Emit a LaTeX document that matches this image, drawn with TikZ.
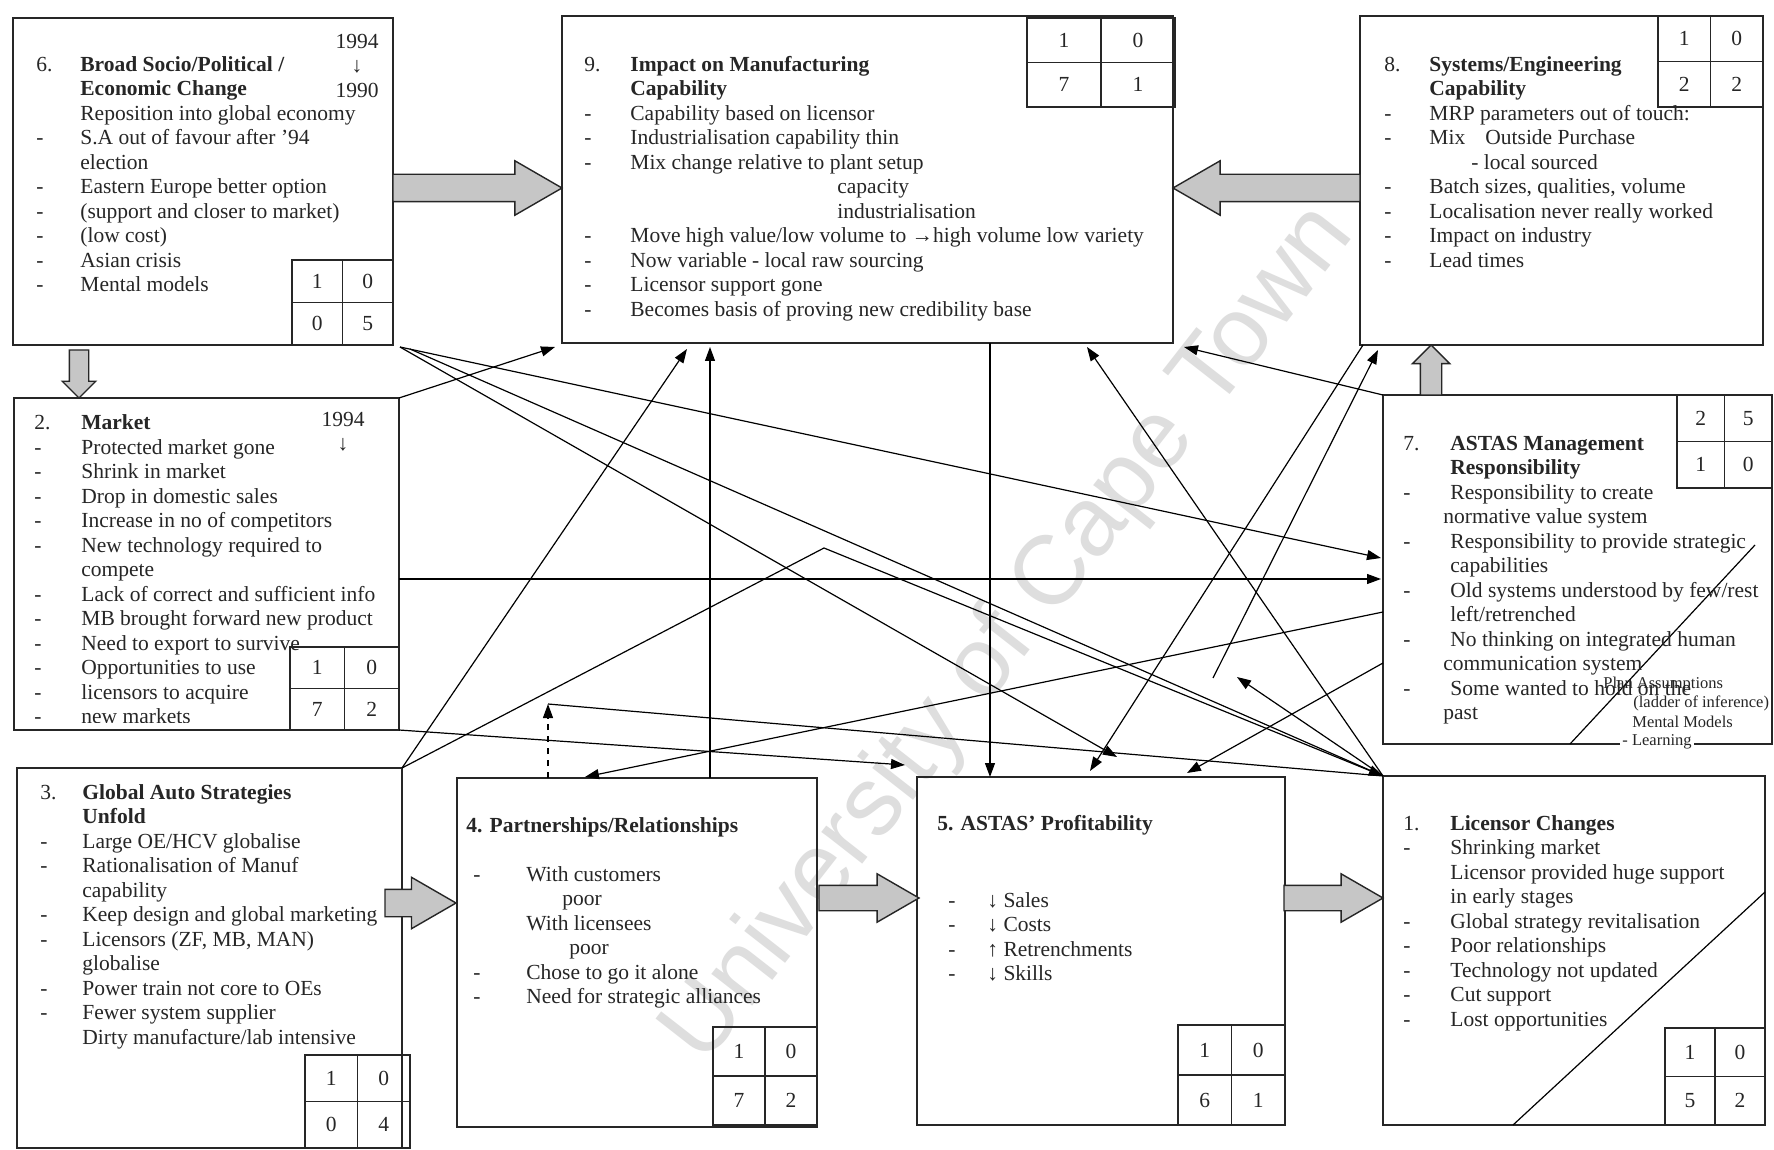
\documentclass[tikz,border=0pt]{standalone}
\usepackage{fontspec}
\setmainfont{Liberation Serif}
\newfontfamily\wmfont{Liberation Sans}
\usetikzlibrary{arrows.meta,shapes.arrows}

% column helpers for the dash lists inside the boxes
\newlength\colw
\newcommand\dsh{\makebox[\colw][l]{-}}
\newcommand\nod{\hspace*{\colw}}
\newcommand\lbl[1]{\makebox[\colw][l]{#1}}

% 2x2 score table: name, x1, y1, x2, y2, four entries
\newcommand\scoregrid[9]{%
  \draw[grid] (#2,#3) rectangle (#4,#5);
  \pgfmathsetmacro\sgx{(#2+#4)/2}%
  \pgfmathsetmacro\sgy{(#3+#5)/2}%
  \draw[grid] (\sgx,#3) -- (\sgx,#5) (#2,\sgy) -- (#4,\sgy);
  \node[score] (#1-a) at ({(#2+\sgx)/2},{(#3+\sgy)/2}) {#6};
  \node[score] (#1-b) at ({(#4+\sgx)/2},{(#3+\sgy)/2}) {#7};
  \node[score] (#1-c) at ({(#2+\sgx)/2},{(#5+\sgy)/2}) {#8};
  \node[score] (#1-d) at ({(#4+\sgx)/2},{(#5+\sgy)/2}) {#9};
}

\begin{document}
\begin{tikzpicture}[x=0.5pt,y=-0.5pt,
  box/.style={draw=black!85,line width=0.8pt,anchor=north west,inner sep=0pt,outer sep=0pt},
  body/.style={anchor=north west,inner sep=0pt,align=left,text=black!85,font=\fontsize{10.75}{12.25}\selectfont},
  years/.style={anchor=north,inner sep=0pt,align=center,text=black!85,font=\fontsize{10.75}{12.25}\selectfont},
  grid/.style={draw=black!85,line width=0.7pt},
  score/.style={inner sep=0pt,text=black!85,font=\fontsize{10.75}{12}\selectfont},
  conn/.style={draw=black,line width=0.6pt,-{Triangle[length=7pt,width=5pt]}},
  plain/.style={draw=black,line width=0.6pt},
  blockarrow/.style={single arrow,draw=black!85,line width=0.7pt,fill=gray!45,inner xsep=0pt,outer sep=0pt,single arrow tip angle=60,anchor=tail},
  note/.style={inner sep=0pt,text=black!85,font=\fontsize{8.25}{9}\selectfont},
  watermark/.style={inner sep=0pt,text=black!13,font=\wmfont\fontsize{49}{49}\selectfont}
]
\fill[white] (0,0) rectangle (1774,1150);
\useasboundingbox (0,0) rectangle (1774,1150);

% watermark
\node[watermark,rotate=52] (wm) at (1010,635) {University of Cape Town};

% ---------- boxes ----------
\node[box,minimum width=190pt,minimum height=163.5pt] (b6) at (13,18) {};
\node[box,minimum width=305.5pt,minimum height=163.5pt] (b9) at (562,16) {};
\node[box,minimum width=201.5pt,minimum height=164.5pt] (b8) at (1360,16) {};
\node[box,minimum width=192.5pt,minimum height=166pt] (b2) at (14,398) {};
\node[box,minimum width=194.5pt,minimum height=174.5pt] (b7) at (1383,395) {};
\node[box,minimum width=192.5pt,minimum height=190pt] (b3) at (17,768) {};
\node[box,minimum width=180pt,minimum height=174.5pt] (b4) at (457,778) {};
\node[box,minimum width=184pt,minimum height=174pt] (b5) at (917,777) {};
\node[box,minimum width=191pt,minimum height=174.5pt] (b1) at (1383,776) {};

% diagonal strokes inside boxes 1 and 7
\draw[plain] (1513,1125) -- (1765,892);
\draw[plain] (1570,744) -- (1755,545);

% ---------- box texts ----------
\setlength{\colw}{22pt}
\node[body] (t6) at (36,53.5) {\strut\lbl{6.}\textbf{Broad Socio/Political /}\\
\nod\textbf{Economic Change}\\
\nod Reposition into global economy\\
\dsh S.A out of favour after '94\\
\nod election\\
\dsh Eastern Europe better option\\
\dsh (support and closer to market)\\
\dsh (low cost)\\
\dsh Asian crisis\\
\dsh Mental models};
\node[years] (y6) at (357,30.5) {\strut 1994\\↓\\1990};

\setlength{\colw}{23pt}
\node[body] (t9) at (584,53.5) {\strut\lbl{9.}\textbf{Impact on Manufacturing}\\
\nod\textbf{Capability}\\
\dsh Capability based on licensor\\
\dsh Industrialisation capability thin\\
\dsh Mix change relative to plant setup\\
\nod\hspace*{103.5pt}capacity\\
\nod\hspace*{103.5pt}industrialisation\\
\dsh Move high value/low volume to →high volume low variety\\
\dsh Now variable - local raw sourcing\\
\dsh Licensor support gone\\
\dsh Becomes basis of proving new credibility base};

\setlength{\colw}{22.5pt}
\node[body] (t8) at (1384,53.5) {\strut\lbl{8.}\textbf{Systems/Engineering}\\
\nod\textbf{Capability}\\
\dsh MRP parameters out of touch:\\
\dsh\makebox[28pt][l]{Mix}Outside Purchase\\
\nod\hspace*{21pt}- local sourced\\
\dsh Batch sizes, qualities, volume\\
\dsh Localisation never really worked\\
\dsh Impact on industry\\
\dsh Lead times};

\setlength{\colw}{23.5pt}
\begin{scope}
\clip (14,398) rectangle (399,722);
\node[body] (t2) at (34,412) {\strut\lbl{2.}\textbf{Market}\\
\dsh Protected market gone\\
\dsh Shrink in market\\
\dsh Drop in domestic sales\\
\dsh Increase in no of competitors\\
\dsh New technology required to\\
\nod compete\\
\dsh Lack of correct and sufficient info\\
\dsh MB brought forward new product\\
\dsh Need to export to survive\\
\dsh Opportunities to use\\
\dsh licensors to acquire\\
\dsh new markets};
\end{scope}
\node[years] (y2) at (343,408.5) {\strut 1994\\↓};

\setlength{\colw}{23.5pt}
\node[body] (t7) at (1403,432.5) {\strut\lbl{7.}\textbf{ASTAS Management}\\
\nod\textbf{Responsibility}\\
\dsh Responsibility to create\\
\hspace*{20pt}normative value system\\
\dsh Responsibility to provide strategic\\
\nod capabilities\\
\dsh Old systems understood by few/rest\\
\nod left/retrenched\\
\dsh No thinking on integrated human\\
\hspace*{20pt}communication system\\
\dsh Some wanted to hold on the\\
\hspace*{20pt}past};
\node[note,anchor=west] (n1) at (1603,685) {Plan Assumptions};
\node[note,anchor=west] (n2) at (1633,703) {(ladder of inference)};
\node[note,anchor=west] (n3) at (1632,722) {Mental Models};
\node[note,anchor=west,fill=white,inner xsep=1pt] (n4) at (1620,742) {- Learning};

\setlength{\colw}{21pt}
\node[body] (t3) at (40,781.5) {\strut\lbl{3.}\textbf{Global Auto Strategies}\\
\nod\textbf{Unfold}\\
\dsh Large OE/HCV globalise\\
\dsh Rationalisation of Manuf\\
\nod capability\\
\dsh Keep design and global marketing\\
\dsh Licensors (ZF, MB, MAN)\\
\nod globalise\\
\dsh Power train not core to OEs\\
\dsh Fewer system supplier\\
\nod Dirty manufacture/lab intensive};

\node[body] (t4h) at (466,814.5) {\strut\textbf{4. Partnerships/Relationships}};
\setlength{\colw}{26.5pt}
\node[body] (t4) at (473,863.5) {\strut\dsh With customers\\
\nod\hspace*{18pt}poor\\
\nod With licensees\\
\nod\hspace*{21.5pt}poor\\
\dsh Chose to go it alone\\
\dsh Need for strategic alliances};

\node[body] (t5h) at (937,812.5) {\strut\textbf{5. ASTAS' Profitability}};
\setlength{\colw}{19.5pt}
\node[body] (t5) at (948,889.5) {\strut\dsh{}↓ Sales\\
\dsh{}↓ Costs\\
\dsh{}↑ Retrenchments\\
\dsh{}↓ Skills};

\setlength{\colw}{23.5pt}
\node[body] (t1) at (1403,812.5) {\strut\lbl{1.}\textbf{Licensor Changes}\\
\dsh Shrinking market\\
\nod Licensor provided huge support\\
\nod in early stages\\
\dsh Global strategy revitalisation\\
\dsh Poor relationships\\
\dsh Technology not updated\\
\dsh Cut support\\
\dsh Lost opportunities};

% ---------- score tables ----------
\scoregrid{g6}{292}{260}{393}{345}{1}{0}{0}{5}
\scoregrid{g9}{1027}{18}{1175}{107}{1}{0}{7}{1}
\scoregrid{g8}{1658}{16}{1763}{107}{1}{0}{2}{2}
\scoregrid{g2}{290}{647}{399}{730}{1}{0}{7}{2}
\scoregrid{g7}{1677}{395}{1772}{488}{2}{5}{1}{0}
\scoregrid{g3}{305}{1055}{410}{1148}{1}{0}{0}{4}
\scoregrid{g4}{713}{1027}{817}{1125}{1}{0}{7}{2}
\scoregrid{g5}{1178}{1025}{1285}{1125}{1}{0}{6}{1}
\scoregrid{g1}{1665}{1028}{1765}{1125}{1}{0}{5}{2}

% ---------- block arrows (placed by their tails) ----------
\node[blockarrow,inner ysep=6.5pt,minimum height=84.5pt,single arrow head extend=6.75pt] (ba1) at (393,188) {};
\node[blockarrow,rotate=180,inner ysep=6.5pt,minimum height=93.5pt,single arrow head extend=6.75pt] (ba2) at (1360,188) {};
\node[blockarrow,rotate=-90,single arrow tip angle=90,inner ysep=4.5pt,minimum height=24pt,single arrow head extend=3.5pt] (ba3) at (79,350) {};
\node[blockarrow,rotate=90,single arrow tip angle=90,inner ysep=5pt,minimum height=25pt,single arrow head extend=4pt] (ba4) at (1431,395) {};
\node[blockarrow,inner ysep=6.5pt,minimum height=35.5pt,single arrow head extend=6pt] (ba5) at (385,903) {};
\node[blockarrow,inner ysep=6pt,minimum height=50pt,single arrow head extend=5.75pt] (ba6) at (819,898) {};
\node[blockarrow,inner ysep=6pt,minimum height=49.5pt,single arrow head extend=5.75pt] (ba7) at (1284,898) {};

% ---------- connector end points ----------
\coordinate (a9) at (555,347);
\coordinate (b9) at (687,349);
\coordinate (c4) at (710,778);
\coordinate (c9) at (710,347);
\coordinate (d7) at (1383,612);
\coordinate (d4) at (585,777);
\coordinate (e5) at (905,765);
\coordinate (f9) at (990,343);
\coordinate (f5) at (990,777);
\coordinate (g8) at (1363,345);
\coordinate (g5) at (1090,771);
\coordinate (hf) at (1213,678);
\coordinate (h8) at (1378,350);
\coordinate (i9) at (1184,347);
\coordinate (j9) at (1087,347);
\coordinate (k6) at (400,347);
\coordinate (k7) at (1381,558);
\coordinate (l2) at (399,579);
\coordinate (l7) at (1381,579);
\coordinate (m7) at (1383,663);
\coordinate (m5) at (1187,773);
\coordinate (nf) at (1237,677);
\coordinate (o5) at (1117,757);
\coordinate (p6) at (410,349);
\coordinate (qk) at (824,548);
\coordinate (r4) at (548,778);
\coordinate (rk) at (548,704);

% ---------- connectors ----------
\draw[conn] (b2.north east) -- (a9);
\draw[conn] (b3.north east) -- (b9);
\draw[conn] (c4) -- (c9);
\draw[conn] (d7) -- (d4);
\draw[conn] (b2.south east) -- (e5);
\draw[conn] (f9) -- (f5);
\draw[conn] (g8) -- (g5);
\draw[conn] (hf) -- (h8);
\draw[conn] (b7.north west) -- (i9);
\draw[conn] (b1.north west) -- (j9);
\draw[conn] (k6) -- (k7);
\draw[conn] (l2) -- (l7);
\draw[conn] (m7) -- (m5);
\draw[conn] (b1.north west) -- (nf);
\draw[conn] (k6) -- (o5);
\draw[conn] (p6) -- (b1.north west);
\draw[conn] (b3.north east) -- (qk) -- (b1.north west);
\draw[plain] (b1.north west) -- (rk);
\draw[conn,dashed] (r4) -- (rk);
\end{tikzpicture}
\end{document}
